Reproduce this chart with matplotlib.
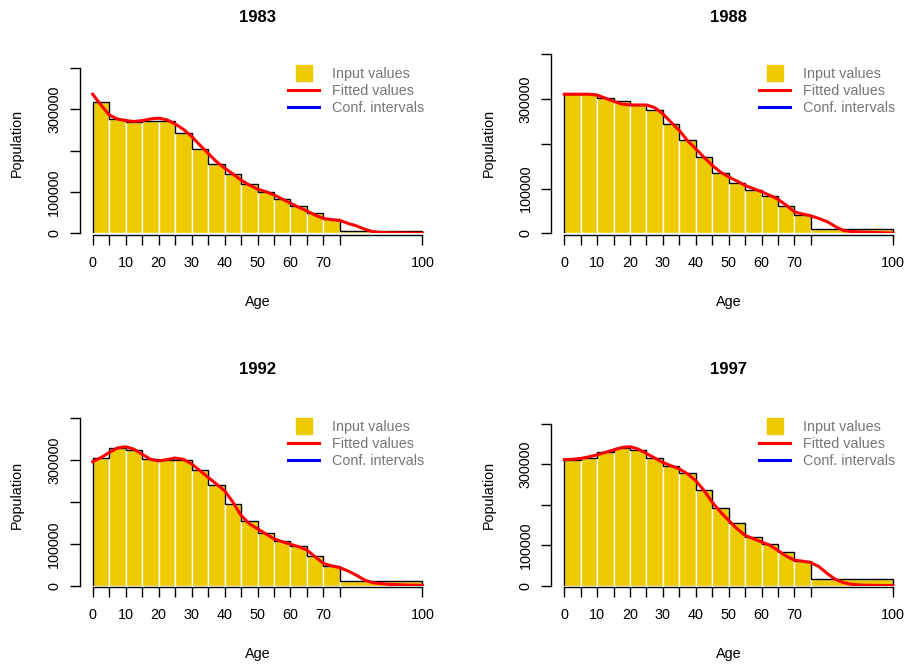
import matplotlib.pyplot as plt
import numpy as np
from matplotlib.lines import Line2D

plt.rcParams["font.family"] = ["Liberation Sans", "DejaVu Sans"]

years = ["1983", "1988", "1992", "1997"]
group_edges = [0, 5, 10, 15, 20, 25, 30, 35, 40, 45, 50, 55, 60, 65, 70, 75, 100]

input_1983 = [318000, 277000, 269000, 271000, 271000, 244000, 204000, 167000,
              143000, 119000, 101000, 83000, 66000, 49000, 34000, 6000]
input_1988 = [311000, 311000, 302000, 295000, 287000, 275000, 244000, 208000,
              170000, 134000, 113000, 96000, 83000, 61000, 42000, 9000]
input_1992 = [306000, 328000, 324000, 302000, 300000, 300000, 277000, 241000,
              196000, 154000, 127000, 107000, 94000, 71000, 47500, 11000]
input_1997 = [311000, 315000, 330000, 341000, 334000, 315000, 296000, 277000,
              236000, 192000, 155000, 120000, 104000, 83000, 61000, 16000]

fit_ages = np.arange(0, 100.1, 2.5)
fit_1983 = [337000, 311000, 287000, 277000, 273000, 271000, 273000, 277000, 279000,
            275000, 265000, 252000, 235000, 214000, 194000, 174000, 158000, 144000,
            129000, 117000, 107000, 101000, 93000, 83000, 73000, 63000, 54000, 44000,
            36000, 33000, 31000, 24000, 18000, 10000, 4000, 2000, 1200, 800, 500, 300, 100]
fit_1988 = [311000, 311000, 311000, 311000, 309000, 302000, 295000, 289000, 287000,
            287000, 287000, 281000, 267000, 248000, 230000, 207000, 189000, 170000,
            152000, 137000, 126000, 117000, 107000, 100000, 93000, 85000, 76000, 63000,
            48000, 43000, 39000, 33000, 26000, 15000, 6000, 4000, 3000, 2200, 1500, 1100, 700]
fit_1992 = [296000, 306000, 318000, 329000, 332000, 326000, 314000, 302000, 298000,
            301000, 305000, 302000, 291000, 275000, 259000, 243000, 227000, 200000,
            168000, 148000, 136000, 124000, 112000, 105000, 99000, 93000, 85000, 69000,
            53000, 47500, 43000, 35000, 25000, 13500, 7000, 4800, 3200, 2400, 1600, 1200, 800]
fit_1997 = [311000, 312000, 314000, 318000, 323000, 329000, 335000, 341000, 343000,
            337000, 326000, 315000, 304000, 296000, 288000, 276000, 259000, 235000,
            206000, 182000, 161000, 141000, 124000, 116000, 108000, 100000, 87000, 73000,
            63000, 60500, 57000, 47000, 30000, 15500, 7400, 3300, 1600, 1200, 800, 400, 200]

inputs = [input_1983, input_1988, input_1992, input_1997]
fits = [fit_1983, fit_1988, fit_1992, fit_1997]

x_ticks = [0, 5, 10, 15, 20, 25, 30, 35, 40, 45, 50, 55, 60, 65, 70, 75, 100]
x_labels = ["0", "", "10", "", "20", "", "30", "", "40", "", "50", "", "60", "", "70", "", "100"]
y_ticks = [0, 100000, 200000, 300000, 400000]
y_labels = ["0", "100000", "", "300000", ""]

yellow = "#EECA00"
fs = 10.4

W, H = 909, 666
# axes boxes in pixels: left, right, top, bottom
boxes = [(79.5, 435.5, 52.5, 233.3), (551.2, 906.1, 52.5, 233.3),
         (79.5, 435.5, 405.0, 585.7), (551.2, 906.1, 405.0, 585.7)]

fig = plt.figure(figsize=(W / 100, H / 100), dpi=100)

for i in range(4):
    l, r, t, b = boxes[i]
    ax = fig.add_axes([l / W, 1 - b / H, (r - l) / W, (b - t) / H])
    edges = np.array(group_edges)
    ax.bar(edges[:-1], inputs[i], width=np.diff(edges), align="edge",
           color=yellow, edgecolor="white", linewidth=1, zorder=1)
    ax.stairs(inputs[i], edges, color="black", linewidth=1, baseline=0, zorder=2)
    ax.plot(fit_ages, fits[i], color="red", linewidth=2.2, zorder=3)

    ax.set_xlim(-4, 104)
    ax.set_ylim(0, 1.3 * max(fits[i]))
    for s in ["top", "right"]:
        ax.spines[s].set_visible(False)
    ax.spines["left"].set_bounds(0, 400000)
    ax.spines["bottom"].set_bounds(0, 100)
    ax.spines["left"].set_linewidth(1)
    ax.spines["bottom"].set_linewidth(1)
    ax.spines["bottom"].set_position(("outward", 1))

    ax.set_xticks(x_ticks)
    ax.set_xticklabels(x_labels)
    ax.set_yticks(y_ticks)
    ax.set_yticklabels(y_labels, rotation=90, va="center")
    ax.tick_params(axis="both", length=7.2, width=1, labelsize=fs, colors="black")
    ax.tick_params(axis="x", pad=8)
    ax.tick_params(axis="y", pad=6)

    ax.text(0.5, 1.196, years[i], transform=ax.transAxes, ha="center", va="center",
            fontsize=12, fontweight="bold")
    ax.text(0.5, -0.38, "Age", transform=ax.transAxes, ha="center", va="center",
            fontsize=fs)
    ax.text(-0.1756, 0.5, "Population", transform=ax.transAxes, ha="center",
            va="center", rotation=90, fontsize=fs)

    handles = [Line2D([], [], linestyle="none", marker="s", markersize=11,
                      color=yellow),
               Line2D([], [], color="red", linewidth=2.2),
               Line2D([], [], color="blue", linewidth=2.2)]
    ax.legend(handles, ["Input values", "Fitted values", "Conf. intervals"],
              loc="upper left", bbox_to_anchor=(0.586, 0.918), frameon=False,
              fontsize=fs, labelcolor="#777777", handlelength=2.15,
              handletextpad=0.88, labelspacing=0.2, borderpad=0, borderaxespad=0)

plt.savefig("out.png", dpi=100)
